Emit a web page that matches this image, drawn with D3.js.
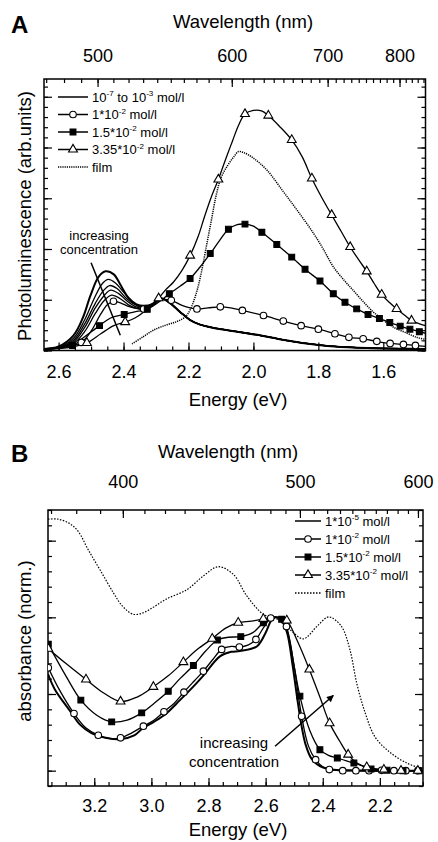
<!DOCTYPE html>
<html><head><meta charset="utf-8">
<script src="https://cdn.jsdelivr.net/npm/d3@7"></script>
<style>
body{margin:0;background:#fff}
svg{display:block}
text{font-family:"Liberation Sans",Arial,Helvetica,sans-serif;fill:#000}
</style>
</head><body>
<svg id="c" width="438" height="842"></svg>
<script>
// ---------------- Panel A data (energy eV, PL arb. units) ----------------
const plEnergyTicks = [2.6, 2.4, 2.2, 2.0, 1.8, 1.6];
const plWavelengthTicks = [500, 600, 700, 800];
const plLegend = ["10|-7| to 10|-3| mol/l", "1*10|-2| mol/l", "1.5*10|-2| mol/l", "3.35*10|-2| mol/l", "film"];

const plLow1 = [[2.645,0.03],[2.60,0.08],[2.554,0.30],[2.525,0.65],[2.502,1.08],[2.477,1.45],[2.455,1.56],[2.43,1.50],[2.41,1.30],[2.385,1.04],[2.36,0.91],[2.338,0.88],[2.31,0.92]];
const plLow2 = [[2.645,0.03],[2.60,0.06],[2.554,0.24],[2.52,0.60],[2.49,1.03],[2.465,1.32],[2.447,1.40],[2.425,1.33],[2.40,1.15],[2.375,0.97],[2.35,0.87],[2.33,0.86],[2.31,0.92]];
const plLow3 = [[2.645,0.03],[2.60,0.05],[2.554,0.20],[2.52,0.52],[2.487,0.93],[2.462,1.18],[2.443,1.28],[2.42,1.22],[2.395,1.05],[2.37,0.92],[2.345,0.85],[2.325,0.85],[2.305,0.93]];
const plLow4 = [[2.645,0.03],[2.60,0.05],[2.554,0.17],[2.52,0.45],[2.487,0.84],[2.46,1.08],[2.44,1.19],[2.415,1.12],[2.39,0.98],[2.365,0.87],[2.34,0.83],[2.32,0.86],[2.30,0.95]];
const plLow5 = [[2.645,0.03],[2.60,0.05],[2.554,0.14],[2.52,0.37],[2.487,0.73],[2.46,0.98],[2.437,1.09],[2.41,1.02],[2.385,0.90],[2.36,0.83],[2.338,0.81],[2.315,0.87],[2.30,0.95]];
const plLowTail = [[2.287,1.03],[2.262,0.96],[2.226,0.76],[2.195,0.60],[2.164,0.51],[2.133,0.46],[2.10,0.42],[2.06,0.38],[2.02,0.34],[1.98,0.30],[1.94,0.25],[1.90,0.20],[1.85,0.15],[1.80,0.11],[1.75,0.08],[1.65,0.05],[1.55,0.035],[1.47,0.03]];

const plCircleCurve = [[2.645,0.03],[2.59,0.06],[2.56,0.09],[2.530,0.16],[2.50,0.38],[2.47,0.72],[2.45,0.90],[2.431,0.97],[2.41,0.94],[2.38,0.86],[2.338,0.82],[2.31,0.90],[2.285,1.00],[2.253,0.99],[2.22,0.89],[2.174,0.82],[2.14,0.84],[2.102,0.86],[2.07,0.84],[2.034,0.79],[1.969,0.69],[1.908,0.58],[1.853,0.49],[1.800,0.42],[1.749,0.33],[1.706,0.26],[1.662,0.23],[1.620,0.18],[1.579,0.14],[1.538,0.12],[1.501,0.10],[1.47,0.08]];
const plCircleMarks = [[2.530,0.16],[2.431,0.97],[2.338,0.82],[2.253,0.99],[2.174,0.82],[2.102,0.86],[2.034,0.79],[1.969,0.69],[1.908,0.58],[1.853,0.49],[1.800,0.42],[1.749,0.33],[1.706,0.26],[1.662,0.23],[1.620,0.18],[1.579,0.14],[1.538,0.12],[1.501,0.10]];

const plSquareCurve = [[2.645,0.03],[2.60,0.05],[2.557,0.10],[2.52,0.27],[2.474,0.49],[2.44,0.64],[2.398,0.71],[2.36,0.77],[2.327,0.81],[2.29,0.96],[2.259,1.12],[2.225,1.27],[2.195,1.42],[2.165,1.64],[2.133,1.91],[2.105,2.16],[2.077,2.39],[2.05,2.48],[2.026,2.49],[2.00,2.45],[1.974,2.33],[1.928,2.09],[1.882,1.84],[1.841,1.60],[1.795,1.37],[1.754,1.12],[1.718,0.95],[1.682,0.82],[1.647,0.71],[1.612,0.63],[1.580,0.55],[1.548,0.48],[1.518,0.42],[1.489,0.37],[1.47,0.34]];
const plSquareMarks = [[2.557,0.10],[2.474,0.49],[2.398,0.71],[2.327,0.81],[2.259,1.12],[2.195,1.42],[2.133,1.91],[2.077,2.39],[2.026,2.49],[1.974,2.33],[1.928,2.09],[1.882,1.84],[1.841,1.60],[1.795,1.37],[1.754,1.12],[1.718,0.95],[1.682,0.82],[1.647,0.71],[1.612,0.63],[1.580,0.55],[1.548,0.48],[1.518,0.42],[1.489,0.37]];

const plTriangleCurve = [[2.645,0.03],[2.59,0.04],[2.55,0.08],[2.513,0.15],[2.47,0.33],[2.43,0.49],[2.395,0.56],[2.365,0.64],[2.338,0.76],[2.315,0.90],[2.292,1.03],[2.27,1.20],[2.246,1.35],[2.22,1.58],[2.195,1.87],[2.17,2.25],[2.15,2.65],[2.13,3.02],[2.108,3.37],[2.085,3.78],[2.065,4.12],[2.045,4.45],[2.026,4.66],[2.00,4.73],[1.975,4.72],[1.954,4.63],[1.92,4.42],[1.882,4.15],[1.85,3.82],[1.820,3.39],[1.79,3.02],[1.759,2.67],[1.73,2.35],[1.702,2.04],[1.675,1.78],[1.651,1.56],[1.628,1.32],[1.605,1.10],[1.58,0.94],[1.559,0.82],[1.535,0.70],[1.513,0.59],[1.49,0.53],[1.47,0.49]];
const plTriangleMarks = [[2.513,0.15],[2.395,0.56],[2.292,1.03],[2.195,1.87],[2.108,3.37],[2.026,4.66],[1.954,4.63],[1.882,4.15],[1.820,3.39],[1.759,2.67],[1.702,2.04],[1.651,1.56],[1.605,1.10],[1.559,0.82],[1.513,0.59]];

const plFilmCurve = [[2.374,0.13],[2.34,0.27],[2.308,0.40],[2.27,0.50],[2.236,0.57],[2.21,0.66],[2.195,0.80],[2.175,1.15],[2.16,1.55],[2.145,2.05],[2.13,2.55],[2.115,3.05],[2.10,3.40],[2.08,3.64],[2.06,3.82],[2.046,3.92],[2.03,3.90],[2.00,3.79],[1.959,3.56],[1.908,3.13],[1.866,2.77],[1.815,2.31],[1.785,2.00],[1.754,1.65],[1.72,1.38],[1.692,1.18],[1.66,0.95],[1.631,0.76],[1.60,0.60],[1.569,0.46],[1.53,0.35],[1.497,0.26],[1.47,0.22]];

const plArrow = [[2.500,1.73],[2.410,0.30]];
const plNote = ["increasing", "concentration"];

// ---------------- Panel B data (energy eV, normalised absorbance) ----------------
const absEnergyTicks = [3.2, 3.0, 2.8, 2.6, 2.4, 2.2];
const absWavelengthTicks = [400, 500, 600];
const absLegend = ["1*10|-5| mol/l", "1*10|-2| mol/l", "1.5*10|-2| mol/l", "3.35*10|-2| mol/l", "film"];

const absLowCurve = [[3.362,0.63],[3.338,0.53],[3.285,0.39],[3.25,0.30],[3.21,0.245],[3.16,0.215],[3.11,0.205],[3.06,0.23],[3.028,0.28],[2.99,0.32],[2.95,0.37],[2.90,0.46],[2.85,0.555],[2.818,0.62],[2.76,0.745],[2.72,0.775],[2.69,0.78],[2.631,0.81],[2.60,0.90],[2.58,0.98],[2.565,1.0],[2.545,0.98],[2.525,0.90],[2.505,0.68],[2.49,0.48],[2.475,0.30],[2.46,0.17],[2.44,0.08],[2.41,0.03],[2.37,0.008],[2.30,0.002],[2.20,0],[2.049,0]];

const absCircleCurve = [[3.361,0.671],[3.32,0.52],[3.271,0.373],[3.23,0.28],[3.186,0.231],[3.15,0.21],[3.108,0.214],[3.07,0.245],[3.028,0.29],[2.99,0.33],[2.956,0.384],[2.92,0.44],[2.886,0.512],[2.85,0.585],[2.818,0.649],[2.785,0.725],[2.754,0.791],[2.72,0.81],[2.692,0.806],[2.66,0.82],[2.634,0.856],[2.605,0.94],[2.582,0.995],[2.56,1.0],[2.54,0.98],[2.527,0.94],[2.50,0.68],[2.474,0.355],[2.45,0.16],[2.425,0.072],[2.40,0.025],[2.377,0.007],[2.33,0.0],[2.049,0]];
const absCircleMarks = [[3.361,0.671],[3.271,0.373],[3.186,0.231],[3.108,0.214],[3.028,0.29],[2.956,0.384],[2.886,0.512],[2.818,0.649],[2.754,0.791],[2.692,0.806],[2.634,0.856],[2.582,0.995],[2.527,0.94],[2.474,0.355],[2.425,0.072],[2.377,0.007],[2.330,0],[2.284,0],[2.238,0],[2.194,0.002],[2.151,0],[2.109,0],[2.067,0]];

const absSquareCurve = [[3.361,0.824],[3.30,0.62],[3.247,0.46],[3.19,0.36],[3.139,0.318],[3.085,0.33],[3.034,0.377],[2.99,0.44],[2.941,0.518],[2.90,0.60],[2.853,0.686],[2.81,0.78],[2.769,0.852],[2.73,0.87],[2.687,0.874],[2.645,0.90],[2.608,0.965],[2.575,1.0],[2.544,0.987],[2.52,0.88],[2.50,0.68],[2.480,0.486],[2.445,0.26],[2.410,0.137],[2.38,0.10],[2.349,0.083],[2.32,0.065],[2.291,0.05],[2.26,0.03],[2.231,0.011],[2.175,0.003],[2.119,0],[2.049,0]];
const absSquareMarks = [[3.361,0.824],[3.247,0.46],[3.139,0.318],[3.034,0.377],[2.941,0.518],[2.853,0.686],[2.769,0.852],[2.687,0.874],[2.608,0.965],[2.544,0.987],[2.480,0.486],[2.410,0.137],[2.349,0.083],[2.291,0.05],[2.231,0.011],[2.175,0.003],[2.119,0],[2.063,0]];

const absTriangleCurve = [[3.361,0.795],[3.30,0.70],[3.229,0.595],[3.17,0.51],[3.108,0.451],[3.05,0.48],[2.993,0.547],[2.94,0.62],[2.888,0.708],[2.84,0.79],[2.787,0.861],[2.74,0.93],[2.696,0.965],[2.65,0.975],[2.608,0.99],[2.575,1.0],[2.55,1.0],[2.526,0.98],[2.49,0.85],[2.447,0.66],[2.41,0.48],[2.376,0.31],[2.34,0.19],[2.311,0.105],[2.28,0.05],[2.246,0.023],[2.186,0.007],[2.126,0.0],[2.049,0]];
const absTriangleMarks = [[3.361,0.795],[3.229,0.595],[3.108,0.451],[2.993,0.547],[2.888,0.708],[2.787,0.861],[2.696,0.965],[2.608,0.99],[2.526,0.98],[2.447,0.66],[2.376,0.31],[2.311,0.105],[2.246,0.023],[2.186,0.007],[2.126,0],[2.067,0]];

const absFilmCurve = [[3.362,1.64],[3.326,1.64],[3.285,1.61],[3.256,1.56],[3.221,1.44],[3.180,1.31],[3.133,1.16],[3.10,1.07],[3.063,1.02],[3.028,1.03],[2.99,1.07],[2.947,1.12],[2.876,1.18],[2.818,1.27],[2.766,1.33],[2.713,1.28],[2.666,1.14],[2.608,1.02],[2.561,0.99],[2.515,0.92],[2.468,0.86],[2.421,0.94],[2.385,1.00],[2.371,1.00],[2.334,0.94],[2.305,0.79],[2.281,0.57],[2.252,0.38],[2.217,0.22],[2.165,0.12],[2.106,0.05],[2.06,0.02],[2.049,0.02]];

const absArrow = [[2.567,0.159],[2.363,0.49]];
const absNote = ["increasing", "concentration"];

// ---------------- drawing ----------------
const svg = d3.select("#c");
const FONT = '"Liberation Sans", Arial, Helvetica, sans-serif';
const defs = svg.append("defs");
defs.append("marker").attr("id","ah").attr("viewBox","0 0 10 10").attr("refX",9).attr("refY",5)
  .attr("markerWidth",9).attr("markerHeight",7).attr("markerUnits","userSpaceOnUse").attr("orient","auto")
  .append("path").attr("d","M0,0 L10,5 L0,10 Z").attr("fill","#000");

const symType = {circle: d3.symbolCircle, square: d3.symbolSquare, triangle: d3.symbolTriangle};
const symSize = {circle: 34, square: 34, triangle: 34};

function richText(sel, str, size) {
  const parts = str.split("|");
  parts.forEach((p, i) => {
    if (i % 2 === 1) {
      sel.append("tspan").attr("font-size", size * 0.62).attr("dy", -size * 0.42).text(p);
    } else {
      const t = sel.append("tspan").text(p);
      if (i > 0) t.attr("dy", size * 0.42);
    }
  });
}

function drawPanel(o) {
  const g = svg.append("g");
  const x = d3.scaleLinear().domain(o.xDomain).range([o.left, o.right]);
  const y = d3.scaleLinear().domain(o.yDomain).range([o.bottom, o.top]);
  defs.append("clipPath").attr("id", o.id + "clip").append("rect")
    .attr("x", o.left).attr("y", o.top).attr("width", o.right - o.left).attr("height", o.bottom - o.top);

  const eMin = Math.min(...o.xDomain), eMax = Math.max(...o.xDomain);
  const within = e => e >= eMin - 1e-6 && e <= eMax + 1e-6;
  const style = (sel, fs) => {
    sel.select(".domain").remove();
    sel.selectAll("line").attr("stroke", "#000").attr("stroke-width", 1.2);
    sel.selectAll("text").attr("font-size", fs).style("font-family", FONT).attr("fill", "#000");
  };
  const eMinor = d3.range(40, 70).map(i => i * 0.05).filter(within);
  const toE = l => 1240 / l;
  const wMinor = d3.range(30, 90).map(i => i * 10).filter(l => within(toE(l)));

  // bottom energy axis
  g.append("g").attr("transform", `translate(0,${o.bottom})`)
    .call(d3.axisBottom(x).tickValues(eMinor).tickSize(-4).tickFormat(""))
    .call(s => style(s, o.bFont));
  g.append("g").attr("transform", `translate(0,${o.bottom})`)
    .call(d3.axisBottom(x).tickValues(o.eTicks).tickSize(-8).tickPadding(o.bPad).tickFormat(d3.format(".1f")))
    .call(s => style(s, o.bFont));
  // top wavelength axis
  g.append("g").attr("transform", `translate(0,${o.top})`)
    .call(d3.axisTop(x).tickValues(wMinor.map(toE)).tickSize(-4).tickFormat(""))
    .call(s => style(s, o.tFont));
  g.append("g").attr("transform", `translate(0,${o.top})`)
    .call(d3.axisTop(x).tickValues(o.wTicks.map(toE)).tickSize(-8).tickPadding(o.tPad)
      .tickFormat(e => d3.format(".0f")(1240 / e)))
    .call(s => style(s, o.tFont));
  // y axes (no labels)
  [[d3.axisLeft, o.left], [d3.axisRight, o.right]].forEach(([ax, px]) => {
    g.append("g").attr("transform", `translate(${px},0)`)
      .call(ax(y).tickValues(o.yMinor).tickSize(-4).tickFormat(""))
      .call(s => style(s, 10));
    g.append("g").attr("transform", `translate(${px},0)`)
      .call(ax(y).tickValues(o.yMajor).tickSize(-8).tickFormat(""))
      .call(s => style(s, 10));
  });
  // frame
  g.append("rect").attr("x", o.left).attr("y", o.top).attr("width", o.right - o.left)
    .attr("height", o.bottom - o.top).attr("fill", "none").attr("stroke", "#000").attr("stroke-width", 1.5);

  // titles
  g.append("text").attr("x", o.topTitle[0]).attr("y", o.topTitle[1]).attr("text-anchor", "middle")
    .attr("font-size", 18.5).text("Wavelength (nm)");
  g.append("text").attr("x", o.botTitle[0]).attr("y", o.botTitle[1]).attr("text-anchor", "middle")
    .attr("font-size", 18.5).text("Energy (eV)");
  g.append("text").attr("transform", `translate(${o.yTitle[0]},${o.yTitle[1]}) rotate(-90)`)
    .attr("text-anchor", "middle").attr("font-size", 18.5).text(o.yLabel);
  g.append("text").attr("x", o.letter[0]).attr("y", o.letter[1]).attr("font-size", 24)
    .attr("font-weight", "bold").text(o.letterText);

  // curves
  const plot = g.append("g").attr("clip-path", `url(#${o.id}clip)`);
  const line = d3.line().x(d => x(d[0])).y(d => y(d[1])).curve(d3.curveCatmullRom.alpha(0.5));
  o.series.forEach(s => {
    plot.append("path").datum(s.curve).attr("d", line).attr("fill", "none")
      .attr("stroke", "#000").attr("stroke-width", s.width || 1.3)
      .attr("stroke-dasharray", s.dash || null).attr("stroke-linejoin", "round");
  });
  o.series.forEach(s => {
    if (!s.marks) return;
    plot.selectAll(null).data(s.marks).join("path")
      .attr("transform", d => `translate(${x(d[0])},${y(d[1])})`)
      .attr("d", d3.symbol().type(symType[s.sym]).size(symSize[s.sym]))
      .attr("fill", s.sym === "square" ? "#000" : "#fff")
      .attr("stroke", "#000").attr("stroke-width", 1.1);
  });

  // arrow + note
  g.append("path").datum(o.arrow).attr("d", d3.line().x(d => x(d[0])).y(d => y(d[1])))
    .attr("stroke", "#000").attr("stroke-width", 1.5).attr("fill", "none")
    .attr("marker-end", o.arrowHead ? "url(#ah)" : null);
  o.note.forEach((t, i) => {
    g.append("text").attr("x", o.notePos[0]).attr("y", o.notePos[1] + i * o.noteGap)
      .attr("text-anchor", "middle").attr("font-size", o.noteFont).text(t);
  });

  // legend
  const lg = g.append("g");
  o.legendItems.forEach((it, i) => {
    const ly = o.legend.y + i * o.legend.dy;
    lg.append("line").attr("x1", o.legend.x1).attr("x2", o.legend.x2).attr("y1", ly).attr("y2", ly)
      .attr("stroke", "#000").attr("stroke-width", it.dash ? 1.3 : 1.5)
      .attr("stroke-dasharray", it.dash || null);
    if (it.sym) {
      lg.append("path").attr("transform", `translate(${(o.legend.x1 + o.legend.x2) / 2},${ly})`)
        .attr("d", d3.symbol().type(symType[it.sym]).size(symSize[it.sym]))
        .attr("fill", it.sym === "square" ? "#000" : "#fff").attr("stroke", "#000").attr("stroke-width", 1.1);
    }
    const t = lg.append("text").attr("x", o.legend.x2 + 4).attr("y", ly + 4.5).attr("font-size", 13);
    richText(t, it.label, 13);
  });
}

// Panel A
drawPanel({
  id: "A", left: 44, right: 425.5, top: 79, bottom: 350.5,
  xDomain: [2.645, 1.47], yDomain: [0, 5.35],
  eTicks: plEnergyTicks, wTicks: plWavelengthTicks,
  yMajor: d3.range(0, 6), yMinor: d3.range(0, 27).map(i => i * 0.2),
  bPad: 15, tPad: 17, bFont: 18, tFont: 18,
  topTitle: [243, 28], botTitle: [238, 406], yTitle: [31, 216], yLabel: "Photoluminescence (arb.units)",
  letter: [11, 33], letterText: "A",
  series: [
    {curve: plLow5.concat(plLowTail)}, {curve: plLow4.concat(plLowTail)}, {curve: plLow3.concat(plLowTail)},
    {curve: plLow2.concat(plLowTail)}, {curve: plLow1.concat(plLowTail), width: 2},
    {curve: plFilmCurve, dash: "1.2,1", width: 1.5},
    {curve: plCircleCurve, marks: plCircleMarks, sym: "circle"},
    {curve: plSquareCurve, marks: plSquareMarks, sym: "square"},
    {curve: plTriangleCurve, marks: plTriangleMarks, sym: "triangle"}
  ],
  arrow: plArrow, arrowHead: false, note: plNote, notePos: [99, 240], noteGap: 13.5, noteFont: 13,
  legend: {x1: 58, x2: 88, y: 97, dy: 17.5},
  legendItems: [
    {label: plLegend[0]}, {label: plLegend[1], sym: "circle"}, {label: plLegend[2], sym: "square"},
    {label: plLegend[3], sym: "triangle"}, {label: plLegend[4], dash: "1.2,1"}
  ]
});

// Panel B
drawPanel({
  id: "B", left: 48, right: 423, top: 510, bottom: 786,
  xDomain: [3.362, 2.049], yDomain: [-0.1, 1.7],
  eTicks: absEnergyTicks, wTicks: absWavelengthTicks,
  yMajor: [0, 0.5, 1, 1.5], yMinor: d3.range(-1, 18).map(i => i * 0.1),
  bPad: 13, tPad: 22, bFont: 18, tFont: 18,
  topTitle: [228, 458], botTitle: [238, 836], yTitle: [31, 641], yLabel: "absorbance (norm.)",
  letter: [11, 462], letterText: "B",
  series: [
    {curve: absFilmCurve, dash: "1.5,1.5", width: 1.2},
    {curve: absLowCurve, width: 2},
    {curve: absCircleCurve, marks: absCircleMarks, sym: "circle"},
    {curve: absSquareCurve, marks: absSquareMarks, sym: "square"},
    {curve: absTriangleCurve, marks: absTriangleMarks, sym: "triangle"}
  ],
  arrow: absArrow, arrowHead: true, note: absNote, notePos: [234, 748], noteGap: 19, noteFont: 15,
  legend: {x1: 295, x2: 321, y: 521, dy: 18},
  legendItems: [
    {label: absLegend[0]}, {label: absLegend[1], sym: "circle"}, {label: absLegend[2], sym: "square"},
    {label: absLegend[3], sym: "triangle"}, {label: absLegend[4], dash: "1.5,1.5"}
  ]
});
</script>
</body></html>
